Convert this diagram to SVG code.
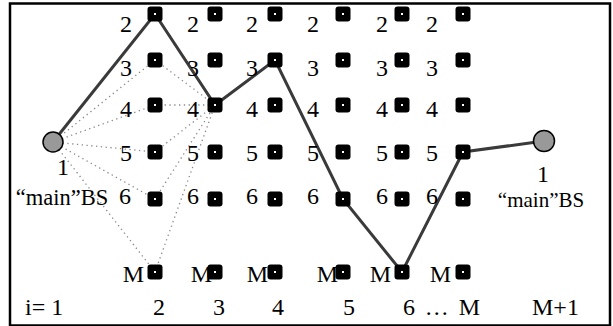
<svg xmlns="http://www.w3.org/2000/svg" width="613" height="326" viewBox="0 0 613 326">
<defs>
<style>
text{font-family:"Liberation Serif","Times New Roman","DejaVu Serif",serif;font-size:24px;fill:#000}
.m{text-anchor:middle}
.e{text-anchor:end}
.bsl{font-size:22.5px}
.bsr{font-size:21px}
.sq{fill:#000}
.dot{fill:#fff}
.bs{fill:#999;stroke:#000;stroke-width:1.5}
.path{fill:none;stroke:#3a3a3a;stroke-width:3;stroke-linejoin:miter}
.dl{fill:none;stroke:#888;stroke-width:1.3;stroke-dasharray:1.3 3.5}
</style>
<g id="node">
<rect class="sq" x="-7.5" y="-7.5" width="15" height="15" rx="3"/>
<rect class="dot" x="-1" y="-1" width="2" height="2"/>
</g>
</defs>
<rect x="0" y="0" width="613" height="326" fill="#fff"/>
<rect x="10" y="3.5" width="600" height="322" fill="none" stroke="#000" stroke-width="2.5"/>

<g id="connectors">
<g class="dl">
<line x1="53" y1="142" x2="155" y2="60"/>
<line x1="53" y1="142" x2="155" y2="105"/>
<line x1="53" y1="142" x2="155" y2="152"/>
<line x1="53" y1="142" x2="155" y2="199"/>
<line x1="53" y1="142" x2="155" y2="272"/>
<line x1="155" y1="60" x2="215" y2="105"/>
<line x1="155" y1="105" x2="215" y2="105"/>
<line x1="155" y1="152" x2="215" y2="105"/>
<line x1="155" y1="199" x2="215" y2="105"/>
<line x1="155" y1="272" x2="215" y2="105"/>
</g>
<polyline class="path" points="53,142 155,14 215,105 275,60 343,199 402,272 463,152 544,141"/>
</g>

<g id="labels">
<text class="m" x="126" y="32">2</text><text class="m" x="193" y="32">2</text><text class="m" x="252" y="32">2</text><text class="m" x="313" y="32">2</text><text class="m" x="382" y="32">2</text><text class="m" x="432" y="32">2</text>
<text class="m" x="126" y="76">3</text><text class="m" x="193" y="76">3</text><text class="m" x="252" y="76">3</text><text class="m" x="313" y="76">3</text><text class="m" x="382" y="76">3</text><text class="m" x="432" y="76">3</text>
<text class="m" x="126" y="117">4</text><text class="m" x="193" y="117">4</text><text class="m" x="252" y="117">4</text><text class="m" x="313" y="117">4</text><text class="m" x="382" y="117">4</text><text class="m" x="432" y="117">4</text>
<text class="m" x="126" y="161">5</text><text class="m" x="193" y="161">5</text><text class="m" x="252" y="161">5</text><text class="m" x="313" y="161">5</text><text class="m" x="382" y="161">5</text><text class="m" x="432" y="161">5</text>
<text class="m" x="125" y="204">6</text><text class="m" x="193" y="204">6</text><text class="m" x="252" y="204">6</text><text class="m" x="313" y="204">6</text><text class="m" x="382" y="204">6</text><text class="m" x="432" y="204">6</text>
<text class="e" x="144" y="282">M</text><text class="e" x="212" y="282">M</text><text class="e" x="268" y="282">M</text><text class="e" x="338" y="282">M</text><text class="e" x="391" y="282">M</text><text class="e" x="451" y="282">M</text>
<text x="25" y="315">i= 1</text>
<text class="m" x="159" y="315">2</text>
<text class="m" x="219" y="315">3</text>
<text class="m" x="278" y="315">4</text>
<text class="m" x="349" y="315">5</text>
<text x="403" y="315" textLength="77" lengthAdjust="spacing">6 … M</text>
<text x="532" y="315">M+1</text>
</g>

<g id="bs-left">
<circle class="bs" cx="53" cy="142" r="10"/>
<text class="m" x="63" y="175">1</text>
<text class="m bsl" x="62" y="205">“main”BS</text>
</g>
<g id="bs-right">
<circle class="bs" cx="544" cy="141" r="10.5"/>
<text class="m" x="543" y="182">1</text>
<text class="m bsr" x="541" y="207">“main”BS</text>
</g>

<g id="col2">
<use href="#node" x="155" y="14"/><use href="#node" x="155" y="60"/><use href="#node" x="155" y="105"/><use href="#node" x="155" y="152"/><use href="#node" x="155" y="199"/><use href="#node" x="155" y="272"/>
</g>
<g id="col3">
<use href="#node" x="215" y="14"/><use href="#node" x="215" y="60"/><use href="#node" x="215" y="105"/><use href="#node" x="215" y="152"/><use href="#node" x="215" y="199"/><use href="#node" x="215" y="272"/>
</g>
<g id="col4">
<use href="#node" x="275" y="14"/><use href="#node" x="275" y="60"/><use href="#node" x="275" y="105"/><use href="#node" x="275" y="152"/><use href="#node" x="275" y="199"/><use href="#node" x="275" y="272"/>
</g>
<g id="col5">
<use href="#node" x="343" y="14"/><use href="#node" x="343" y="60"/><use href="#node" x="343" y="105"/><use href="#node" x="343" y="152"/><use href="#node" x="343" y="199"/><use href="#node" x="343" y="272"/>
</g>
<g id="col6">
<use href="#node" x="402" y="14"/><use href="#node" x="402" y="60"/><use href="#node" x="402" y="105"/><use href="#node" x="402" y="152"/><use href="#node" x="402" y="199"/><use href="#node" x="402" y="272"/>
</g>
<g id="col7">
<use href="#node" x="463" y="14"/><use href="#node" x="463" y="60"/><use href="#node" x="463" y="105"/><use href="#node" x="463" y="152"/><use href="#node" x="463" y="199"/><use href="#node" x="463" y="272"/>
</g>
</svg>
